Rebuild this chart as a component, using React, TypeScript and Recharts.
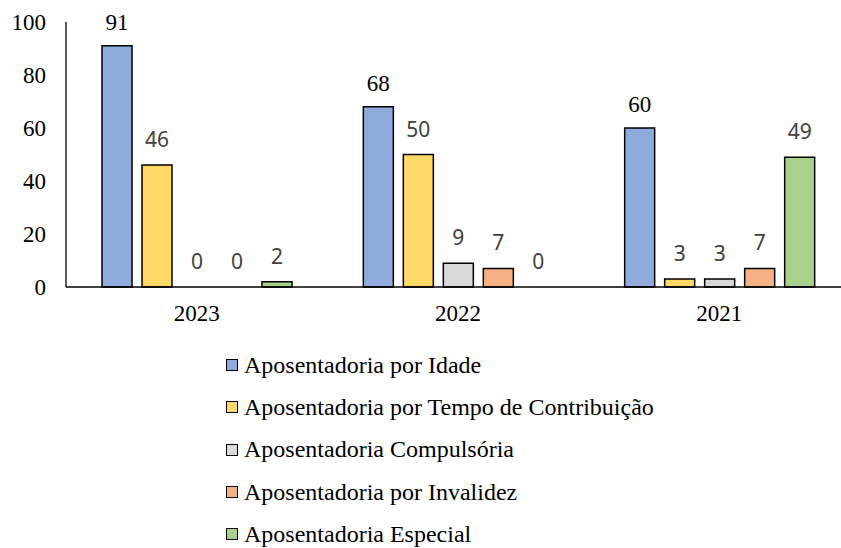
import React from 'react'
import { BarChart, Bar, XAxis, YAxis, Rectangle } from 'recharts'

const years = ['2023', '2022', '2021']
const idade = [91, 68, 60]
const tempo = [46, 50, 3]
const compulsoria = [0, 9, 3]
const invalidez = [0, 7, 7]
const especial = [2, 0, 49]
const yTicks = [0, 20, 40, 60, 80, 100]

const SERIES = [
    { key: 'idade', name: 'Aposentadoria por Idade', color: '#8FAADC', values: idade, serifLabel: true },
    { key: 'tempo', name: 'Aposentadoria por Tempo de Contribuição', color: '#FFD966', values: tempo, serifLabel: false },
    { key: 'compulsoria', name: 'Aposentadoria Compulsória', color: '#D9D9D9', values: compulsoria, serifLabel: false },
    { key: 'invalidez', name: 'Aposentadoria por Invalidez', color: '#F4B183', values: invalidez, serifLabel: false },
    { key: 'especial', name: 'Aposentadoria Especial', color: '#A9D18E', values: especial, serifLabel: false },
]

const data = years.map((year, i) => {
    const row: any = { year }
    SERIES.forEach(s => { row[s.key] = s.values[i] })
    return row
})

const SERIF = 'Liberation Serif'
const SANS = 'Noto Sans'

// bar + value label together, so zero-height bars still get their "0"
const makeShape = (serif: boolean) => (props: any) => {
    const { x, y, width, height, value } = props
    const v = Array.isArray(value) ? value[1] - value[0] : value
    return (
        <g>
            {height > 0 && <Rectangle {...props} />}
            <text
                x={Number(x) + Number(width) / 2}
                y={Number(y) - (serif ? 16 : 18)}
                textAnchor="middle"
                style={{ fontFamily: serif ? SERIF : SANS, fontSize: serif ? 23 : 21 }}
                fill={serif ? '#000' : '#404040'}
            >
                {v}
            </text>
        </g>
    )
}

const YTick = ({ x, y, payload }: any) => (
    <text x={x - 12} y={y + 7.5} textAnchor="end" style={{ fontFamily: SERIF, fontSize: 23 }} fill="#000">
        {payload.value}
    </text>
)

const XTick = ({ x, y, payload }: any) => (
    <text x={x} y={y + 26} textAnchor="middle" style={{ fontFamily: SERIF, fontSize: 23 }} fill="#000">
        {payload.value}
    </text>
)

export default function App() {
    return (
        <div style={{ position: 'absolute', left: 0, top: 0, width: 841, height: 548, overflow: 'hidden', background: '#fff' }}>
            <BarChart
                width={850}
                height={330}
                data={data}
                margin={{ top: 22, right: 0, bottom: 0, left: 0 }}
                barSize={30}
                barGap={10}
            >
                <XAxis
                    dataKey="year"
                    height={43}
                    axisLine={{ stroke: '#000', strokeWidth: 1.3 }}
                    tickLine={false}
                    tick={<XTick />}
                />
                <YAxis
                    width={66}
                    domain={[0, 100]}
                    ticks={yTicks}
                    axisLine={{ stroke: '#000', strokeWidth: 1.3 }}
                    tickLine={false}
                    tick={<YTick />}
                />
                {SERIES.map(s => (
                    <Bar
                        key={s.key}
                        dataKey={s.key}
                        name={s.name}
                        fill={s.color}
                        stroke="#000"
                        strokeWidth={1.5}
                        isAnimationActive={false}
                        shape={makeShape(s.serifLabel)}
                    />
                ))}
            </BarChart>

            <div style={{ position: 'absolute', left: 226, top: 344, fontFamily: SERIF, fontSize: 24, color: '#000' }}>
                {SERIES.map(s => (
                    <div key={s.key} style={{ display: 'flex', alignItems: 'center', height: 42.3, whiteSpace: 'nowrap' }}>
                        <span style={{ display: 'inline-block', width: 10, height: 10, background: s.color, border: '1.5px solid #000', marginRight: 6 }} />
                        <span>{s.name}</span>
                    </div>
                ))}
            </div>
        </div>
    )
}
